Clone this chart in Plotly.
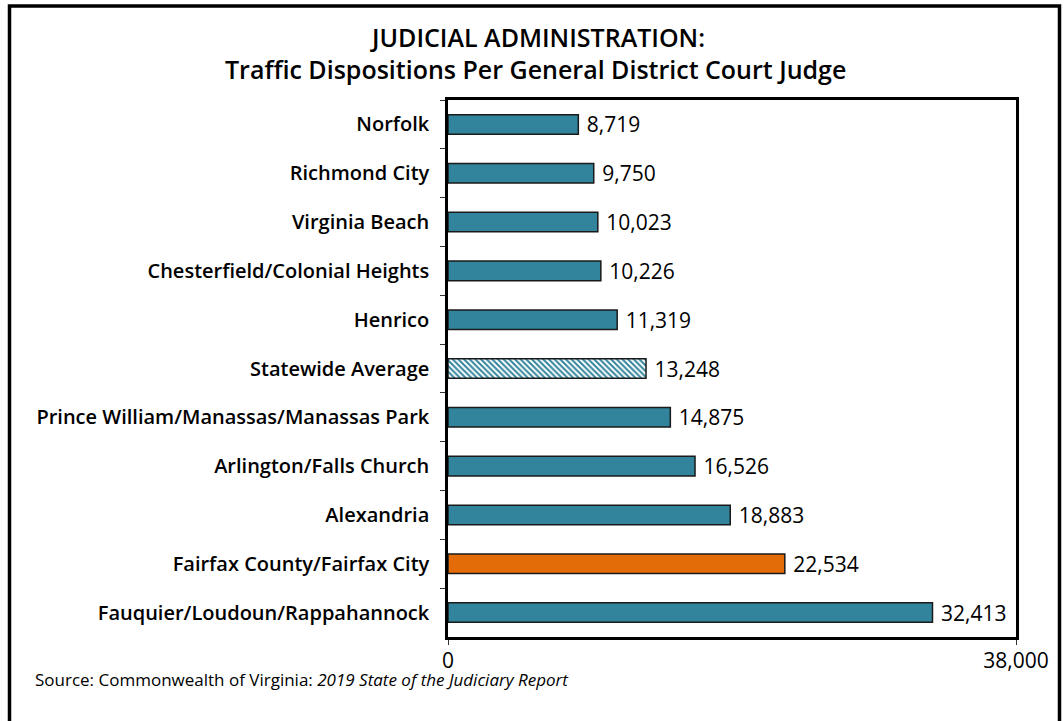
import plotly.graph_objects as go

categories = [
    "Norfolk",
    "Richmond City",
    "Virginia Beach",
    "Chesterfield/Colonial Heights",
    "Henrico",
    "Statewide Average",
    "Prince William/Manassas/Manassas Park",
    "Arlington/Falls Church",
    "Alexandria",
    "Fairfax County/Fairfax City",
    "Fauquier/Loudoun/Rappahannock",
]
values = [8719, 9750, 10023, 10226, 11319, 13248, 14875, 16526, 18883, 22534, 32413]
x_tick_vals = [0, 38000]
x_tick_text = ["0", "38,000"]

TEAL = "#31849B"
ORANGE = "#E36C09"

colors = []
patterns = []
for c in categories:
    if c == "Statewide Average":
        colors.append(TEAL)
        patterns.append("\\")
    elif c == "Fairfax County/Fairfax City":
        colors.append(ORANGE)
        patterns.append("")
    else:
        colors.append(TEAL)
        patterns.append("")

FONT = "Open Sans"

fig = go.Figure(
    go.Bar(
        x=values,
        y=categories,
        orientation="h",
        width=0.4,
        marker=dict(
            color=colors,
            line=dict(color="#1a1a1a", width=1.5),
            pattern=dict(shape=patterns, fgcolor=TEAL, bgcolor="white",
                         size=4, solidity=0.5, fillmode="replace"),
        ),
        text=["\u00a0" + f"{v:,}" for v in values],
        textposition="outside",
        constraintext="none",
        textfont=dict(family=FONT, size=21, color="black"),
        cliponaxis=False,
    )
)

L, R, T, B = 448, 48, 100, 84
W, H = 1064, 721
pw = W - L - R
ph = H - T - B

def px_x(x):
    return (x - L) / pw

def px_y(y):
    return 1 - (y - T) / ph

fig.update_layout(
    width=W,
    height=H,
    margin=dict(l=L, r=R, t=T, b=B, pad=0),
    paper_bgcolor="white",
    plot_bgcolor="white",
    showlegend=False,
    font=dict(family=FONT, color="black"),
    xaxis=dict(
        range=[0, 38000],
        tickvals=x_tick_vals,
        ticktext=x_tick_text,
        ticks="outside",
        ticklen=5,
        tickcolor="#333",
        tickfont=dict(family=FONT, size=21, color="black"),
        showgrid=False,
        zeroline=False,
        showline=True,
        linecolor="black",
        linewidth=2.5,
        mirror=True,
        ticklabelstandoff=-2,
    ),
    yaxis=dict(
        autorange="reversed",
        type="category",
        tickson="boundaries",
        ticks="outside",
        ticklen=5,
        tickcolor="#333",
        tickfont=dict(family=FONT, size=20, color="black", weight=600),
        showgrid=False,
        showline=True,
        linecolor="black",
        linewidth=2.5,
        mirror=True,
        ticklabelstandoff=12,
    ),
    annotations=[
        dict(
            text="JUDICIAL ADMINISTRATION:",
            xref="paper", yref="paper",
            x=px_x(537), y=px_y(37),
            xanchor="center", yanchor="middle",
            showarrow=False,
            font=dict(family=FONT, size=25, color="black", weight=600),
        ),
        dict(
            text="Traffic Dispositions Per General District Court Judge",
            xref="paper", yref="paper",
            x=px_x(535), y=px_y(69),
            xanchor="center", yanchor="middle",
            showarrow=False,
            font=dict(family=FONT, size=25, color="black", weight=600),
        ),
        dict(
            text="Source: Commonwealth of Virginia: <i>2019 State of the Judiciary Report</i>",
            xref="paper", yref="paper",
            x=px_x(33), y=px_y(679),
            xanchor="left", yanchor="middle",
            showarrow=False,
            font=dict(family=FONT, size=17, color="black"),
        ),
    ],
    shapes=[
        dict(
            type="rect", xref="paper", yref="paper",
            x0=px_x(9.5), x1=px_x(1059.5), y0=px_y(760), y1=px_y(6),
            line=dict(color="black", width=3.5),
            fillcolor="rgba(0,0,0,0)",
            layer="above",
        )
    ],
)

fig.write_html(
    "out.html",
    config={"displayModeBar": False},
    post_script="document.body.style.margin='0';document.body.style.overflow='hidden';",
)
